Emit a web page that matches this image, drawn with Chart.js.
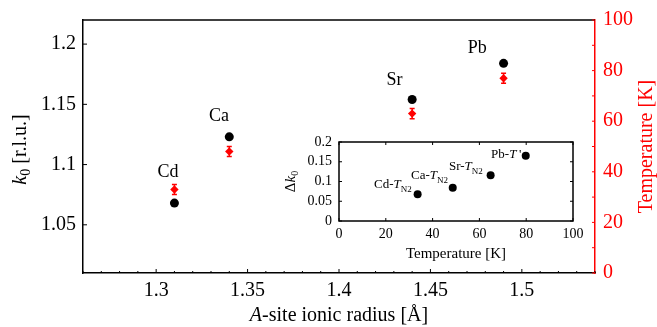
<!DOCTYPE html>
<html><head><meta charset="utf-8">
<script src="https://cdn.jsdelivr.net/npm/chart.js@4/dist/chart.umd.min.js"></script>
<style>
html,body{margin:0;padding:0;background:#fff;}
#wrap{position:relative;width:657px;height:327px;overflow:hidden;}
#main{position:absolute;left:0;top:0;}
#inset{position:absolute;left:280px;top:125px;}
</style></head><body>
<div id="wrap"><canvas id="main" width="657" height="327"></canvas><canvas id="inset" width="320" height="150"></canvas></div>
<script>
// ---- main chart data ----
const elements = ['Cd', 'Ca', 'Sr', 'Pb'];
const ionicRadius = [1.31, 1.34, 1.44, 1.49];
const k0 = [1.068, 1.123, 1.154, 1.184];
const temperature = [33, 48, 63, 77];
const temperatureErr = [2, 2, 2, 2];
const labelX = [1.3065, 1.3344, 1.4303, 1.4756];
const labelY = [1.094, 1.140, 1.1696, 1.1967];
const xTicks = [1.3, 1.35, 1.4, 1.45, 1.5];
const kTicks = [1.05, 1.1, 1.15, 1.2];
const tTicks = [0, 20, 40, 60, 80, 100];

// ---- inset data ----
const insetTemp = [33.6, 48.6, 64.8, 79.8];
const deltaK0 = [0.068, 0.084, 0.116, 0.165];
const insetPrefix = ['Cd-', 'Ca-', 'Sr-', 'Pb-'];
const insetSub = ['N2', 'N2', 'N2', ''];
const insetSuffix = ['', '', '', "\u2009'"];
const insetLabelX = [15.0, 30.8, 47.0, 65.0];
const insetLabelY = [0.096, 0.1165, 0.140, 0.171];
const insetXTicks = [0, 20, 40, 60, 80, 100];
const insetYTicks = [0, 0.05, 0.1, 0.15, 0.2];

const SERIF = '"Liberation Serif", "DejaVu Serif", serif';
const RED = '#ff0000';
Chart.defaults.font.family = SERIF;

function fixedTicks(vals) { return function (scale) { scale.ticks = vals.map(v => ({ value: v })); }; }

function drawRuns(ctx, runs, x, y, align) {
  let w = 0;
  runs.forEach(r => { ctx.font = r.font; r.w = ctx.measureText(r.text).width; w += r.w; });
  let cx = align === 'center' ? x - w / 2 : (align === 'right' ? x - w : x);
  ctx.textAlign = 'left';
  ctx.textBaseline = 'alphabetic';
  runs.forEach(r => { ctx.font = r.font; ctx.fillText(r.text, cx, y + (r.dy || 0)); cx += r.w; });
}

const mainDecor = {
  id: 'mainDecor',
  afterDatasetsDraw(chart) {
    const { ctx, scales: { x, y2 } } = chart;
    ctx.save();
    ctx.strokeStyle = RED;
    ctx.lineWidth = 1.5;
    for (let i = 0; i < ionicRadius.length; i++) {
      const px = x.getPixelForValue(ionicRadius[i]);
      const t = y2.getPixelForValue(temperature[i] + temperatureErr[i]);
      const b = y2.getPixelForValue(temperature[i] - temperatureErr[i]);
      ctx.beginPath();
      ctx.moveTo(px, t); ctx.lineTo(px, b);
      ctx.moveTo(px - 2.5, t); ctx.lineTo(px + 2.5, t);
      ctx.moveTo(px - 2.5, b); ctx.lineTo(px + 2.5, b);
      ctx.stroke();
    }
    ctx.restore();
  },
  afterDraw(chart) {
    const { ctx, chartArea: a, scales: { x, y, y2 } } = chart;
    ctx.save();
    ctx.strokeStyle = '#000';
    ctx.lineWidth = 1.5;
    ctx.beginPath(); ctx.moveTo(a.left, a.top); ctx.lineTo(a.right, a.top); ctx.stroke();
    ctx.lineWidth = 1;
    for (let i = Math.ceil(x.min * 100 - 1e-6); i <= Math.floor(x.max * 100 + 1e-6); i++) {
      const px = x.getPixelForValue(i / 100);
      const len = (i % 5 === 0) ? 4 : 2;
      ctx.beginPath(); ctx.moveTo(px, a.bottom); ctx.lineTo(px, a.bottom - len); ctx.stroke();
    }
    kTicks.forEach(v => {
      const py = y.getPixelForValue(v);
      ctx.beginPath(); ctx.moveTo(a.left, py); ctx.lineTo(a.left + 4, py); ctx.stroke();
    });
    ctx.strokeStyle = RED;
    for (let v = y2.min; v <= y2.max; v += 10) {
      const py = y2.getPixelForValue(v);
      ctx.beginPath(); ctx.moveTo(a.right, py); ctx.lineTo(a.right - 3, py); ctx.stroke();
    }
    ctx.fillStyle = '#000';
    ctx.font = '18px ' + SERIF;
    ctx.textAlign = 'center';
    ctx.textBaseline = 'middle';
    elements.forEach((e, i) => {
      ctx.fillText(e, x.getPixelForValue(labelX[i]), y.getPixelForValue(labelY[i]));
    });
    ctx.save();
    ctx.translate(26, (a.top + a.bottom) / 2 + 3);
    ctx.rotate(-Math.PI / 2);
    ctx.fillStyle = '#000';
    drawRuns(ctx, [
      { text: 'k', font: 'italic 20px ' + SERIF },
      { text: '0', font: '14px ' + SERIF, dy: 4 },
      { text: ' [r.l.u.]', font: '20px ' + SERIF }
    ], 0, 0, 'center');
    ctx.restore();
    ctx.save();
    ctx.translate(652, (a.top + a.bottom) / 2);
    ctx.rotate(-Math.PI / 2);
    ctx.fillStyle = RED;
    drawRuns(ctx, [{ text: 'Temperature [K]', font: '20px ' + SERIF }], 0, 0, 'center');
    ctx.restore();
    ctx.fillStyle = '#000';
    drawRuns(ctx, [
      { text: 'A', font: 'italic 20px ' + SERIF },
      { text: '-site ionic radius [Å]', font: '20px ' + SERIF }
    ], (a.left + a.right) / 2, 321, 'center');
    ctx.restore();
  }
};

new Chart(document.getElementById('main'), {
  type: 'scatter',
  data: {
    datasets: [
      {
        label: 'k0',
        data: ionicRadius.map((r, i) => ({ x: r, y: k0[i] })),
        yAxisID: 'y',
        pointStyle: 'circle',
        pointRadius: 4.5,
        backgroundColor: '#000',
        borderWidth: 0
      },
      {
        label: 'Temperature',
        data: ionicRadius.map((r, i) => ({ x: r, y: temperature[i] })),
        yAxisID: 'y2',
        pointStyle: 'rectRot',
        pointRadius: 4.2,
        backgroundColor: RED,
        borderColor: RED,
        borderWidth: 0
      }
    ]
  },
  options: {
    responsive: false,
    animation: false,
    events: [],
    layout: { padding: { top: 16, left: 0, right: 0, bottom: 0 } },
    plugins: { legend: { display: false }, tooltip: { enabled: false } },
    scales: {
      x: {
        type: 'linear', min: 1.26, max: 1.54,
        afterBuildTicks: fixedTicks(xTicks),
        afterFit(s) { s.height = 54; s.paddingLeft = 0; s.paddingRight = 0; },
        grid: { display: false, drawTicks: false },
        border: { display: true, color: '#000', width: 1.5 },
        ticks: { autoSkip: false, color: '#000', font: { family: SERIF, size: 20 }, padding: 6, maxRotation: 0, callback: v => String(v) }
      },
      y: {
        type: 'linear', position: 'left', min: 1.01, max: 1.22,
        afterBuildTicks: fixedTicks(kTicks),
        afterFit(s) { s.width = 83; },
        grid: { display: false, drawTicks: false },
        border: { display: true, color: '#000', width: 1.5 },
        ticks: { autoSkip: false, color: '#000', font: { family: SERIF, size: 20 }, padding: 7, callback: v => String(v) }
      },
      y2: {
        type: 'linear', position: 'right', min: 0, max: 100,
        afterBuildTicks: fixedTicks(tTicks),
        afterFit(s) { s.width = 62; },
        grid: { display: false, drawTicks: false },
        border: { display: true, color: RED, width: 1.5 },
        ticks: { autoSkip: false, color: RED, font: { family: SERIF, size: 20 }, padding: 8, callback: v => String(v) }
      }
    }
  },
  plugins: [mainDecor]
});

// ---- inset ----
const insetDecor = {
  id: 'insetDecor',
  beforeDraw(chart) {
    const { ctx, chartArea: a } = chart;
    ctx.save();
    ctx.fillStyle = '#fff';
    ctx.fillRect(a.left, a.top, a.right - a.left, a.bottom - a.top);
    ctx.restore();
  },
  afterDraw(chart) {
    const { ctx, chartArea: a, scales: { x, y } } = chart;
    ctx.save();
    ctx.strokeStyle = '#000';
    ctx.lineWidth = 1.5;
    ctx.strokeRect(a.left, a.top, a.right - a.left, a.bottom - a.top);
    ctx.lineWidth = 1;
    insetXTicks.forEach(v => {
      const px = x.getPixelForValue(v);
      ctx.beginPath();
      ctx.moveTo(px, a.bottom); ctx.lineTo(px, a.bottom - 3);
      ctx.moveTo(px, a.top); ctx.lineTo(px, a.top + 3);
      ctx.stroke();
    });
    insetYTicks.forEach(v => {
      const py = y.getPixelForValue(v);
      ctx.beginPath();
      ctx.moveTo(a.left, py); ctx.lineTo(a.left + 3, py);
      ctx.moveTo(a.right, py); ctx.lineTo(a.right - 3, py);
      ctx.stroke();
    });
    ctx.fillStyle = '#000';
    insetPrefix.forEach((p, i) => {
      const runs = [
        { text: p, font: '13px ' + SERIF },
        { text: 'T', font: 'italic 13px ' + SERIF }
      ];
      if (insetSub[i]) runs.push({ text: insetSub[i], font: '9px ' + SERIF, dy: 4 });
      if (insetSuffix[i]) runs.push({ text: insetSuffix[i], font: '13px ' + SERIF });
      drawRuns(ctx, runs, x.getPixelForValue(insetLabelX[i]), y.getPixelForValue(insetLabelY[i]) + 4.5, 'left');
    });
    drawRuns(ctx, [{ text: 'Temperature [K]', font: '15px ' + SERIF }], (a.left + a.right) / 2, 133, 'center');
    ctx.save();
    ctx.translate(15, (a.top + a.bottom) / 2);
    ctx.rotate(-Math.PI / 2);
    drawRuns(ctx, [
      { text: 'Δ', font: '15px ' + SERIF },
      { text: 'k', font: 'italic 15px ' + SERIF },
      { text: '0', font: '10px ' + SERIF, dy: 3 }
    ], 0, 0, 'center');
    ctx.restore();
    ctx.restore();
  }
};

new Chart(document.getElementById('inset'), {
  type: 'scatter',
  data: {
    datasets: [{
      label: 'Δk0',
      data: insetTemp.map((t, i) => ({ x: t, y: deltaK0[i] })),
      pointStyle: 'circle',
      pointRadius: 4,
      backgroundColor: '#000',
      borderWidth: 0
    }]
  },
  options: {
    responsive: false,
    animation: false,
    events: [],
    layout: { padding: { top: 17, right: 27, left: 0, bottom: 0 } },
    plugins: { legend: { display: false }, tooltip: { enabled: false } },
    scales: {
      x: {
        type: 'linear', min: 0, max: 100,
        afterBuildTicks: fixedTicks(insetXTicks),
        afterFit(s) { s.height = 54; s.paddingLeft = 0; s.paddingRight = 0; },
        grid: { display: false, drawTicks: false },
        border: { display: false },
        ticks: { autoSkip: false, color: '#000', font: { family: SERIF, size: 14 }, padding: 5, maxRotation: 0, callback: v => String(v) }
      },
      y: {
        type: 'linear', min: 0, max: 0.2,
        afterBuildTicks: fixedTicks(insetYTicks),
        afterFit(s) { s.width = 59; },
        grid: { display: false, drawTicks: false },
        border: { display: false },
        ticks: { autoSkip: false, color: '#000', font: { family: SERIF, size: 14 }, padding: 7, callback: v => String(v) }
      }
    }
  },
  plugins: [insetDecor]
});
</script>
</body></html>
